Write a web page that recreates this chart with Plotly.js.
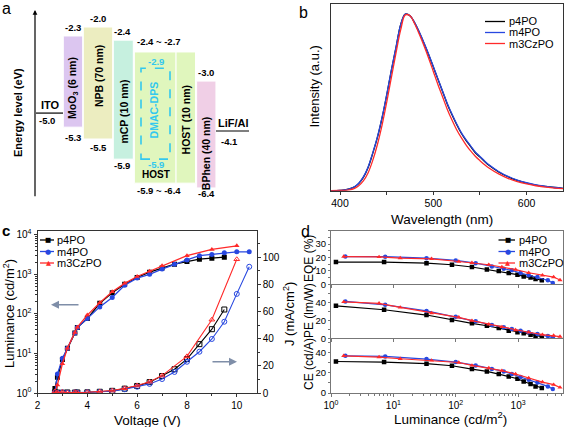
<!DOCTYPE html>
<html>
<head>
<meta charset="utf-8">
<script src="https://cdn.plot.ly/plotly-3.0.1.min.js"></script>
<style>html,body{margin:0;padding:0;background:#fff;}#chart{width:565px;height:427px;}</style>
</head>
<body>
<div id="chart"></div>
<script>
// ---------- Panel a: energy-level schematic ----------
const layerNames = ['MoO<sub>3</sub> (6 nm)', 'NPB (70 nm)', 'mCP (10 nm)', '', 'HOST (10 nm)', 'BPhen (40 nm)'];
const lumoLabels = ['-2.3', '-2.0', '-2.4', '-2.4 ~ -2.7', '', '-3.0'];
const homoLabels = ['-5.3', '-5.5', '-5.9', '-5.9 ~ -6.4', '', '-6.4'];
// schematic levels as drawn (eV scale of the sketch)
const layerTop = [-2.28, -2.0, -2.41, -2.78, -2.78, -3.69];
const layerBottom = [-5.13, -5.5, -6.13, -6.88, -6.88, -7.03];
const electrodeNames = ['ITO', 'LiF/Al'];
const electrodeLabels = ['-5.0', '-4.1'];
const electrodeLevel = [-4.69, -5.25];
const emitterName = 'DMAC-DPS';
const emitterLabels = ['-2.9', '-5.9'];
const emitterLevels = [-3.29, -6.13];

// ---------- Panel b: EL spectra ----------
const wavelength = [390,400,405,410,415,420,425,430,435,440,445,450,455,460,465,470,475,480,485,490,495,500,505,510,515,520,525,530,535,540,545,550,555,560,570,580,590,600,610,620,630,640];
const pl_p4PO = [0,0.002,0.004,0.01,0.02,0.04,0.075,0.13,0.21,0.30,0.41,0.54,0.68,0.81,0.94,1.0,0.99,0.95,0.895,0.835,0.77,0.70,0.63,0.56,0.49,0.43,0.375,0.325,0.285,0.25,0.215,0.19,0.165,0.142,0.106,0.079,0.058,0.043,0.032,0.024,0.018,0.013];
const pl_m4PO = [0,0.002,0.004,0.011,0.021,0.042,0.078,0.133,0.213,0.303,0.413,0.543,0.683,0.812,0.94,1.0,0.99,0.952,0.898,0.838,0.773,0.703,0.633,0.563,0.494,0.434,0.379,0.329,0.289,0.254,0.219,0.194,0.168,0.145,0.109,0.081,0.06,0.045,0.033,0.025,0.018,0.013];
const pl_m3CzPO = [0,0.001,0.002,0.005,0.012,0.028,0.055,0.10,0.17,0.26,0.37,0.50,0.64,0.78,0.91,0.995,0.99,0.945,0.885,0.82,0.75,0.675,0.60,0.53,0.46,0.40,0.345,0.30,0.26,0.225,0.195,0.17,0.147,0.127,0.095,0.07,0.052,0.038,0.028,0.02,0.015,0.011];

// ---------- Panel c: L-V and J-V ----------
const V_p4PO = [2.7,2.8,3.0,3.2,3.5,3.6,4.0,4.5,5.0,5.5,6.0,6.5,7.0,7.5,8.0,8.5,9.0,9.5];
const L_p4PO = [1.3,2.5,7.0,13.5,33,45,76,185,340,560,830,1130,1450,1800,2100,2400,2550,2700];
const J_p4PO = [0.5,0.3,0.2,0.4,0.3,0.4,0.5,0.9,1.6,3.2,5.2,8.0,12.5,17.5,25,36,47,61.5];
const V_m4PO = [2.7,2.8,3.0,3.2,3.5,3.6,4.0,4.5,5.0,5.5,6.0,6.5,7.0,7.5,8.0,8.5,9.0,9.5,10.0,10.5];
const L_m4PO = [1.0,3.0,7.5,13.5,33,45,76,150,260,530,800,1000,1350,1800,2300,2950,3150,3500,3700,3700];
const J_m4PO = [0.6,0.2,0.5,0.2,0.4,0.3,0.5,0.8,1.3,2.8,4.6,6.7,10.3,15.5,23,30.4,39.8,52.5,73,93];
const V_m3CzPO = [2.7,2.8,3.0,3.2,3.5,3.6,4.0,4.5,5.0,5.5,6.0,6.5,7.0,8.0,9.0,10.0];
const L_m3CzPO = [1.0,1.6,5.5,13.5,34,46,93,190,360,590,880,1200,1630,2950,4250,5250];
const J_m3CzPO = [1.2,0.4,0.8,0.2,0.6,0.3,0.6,1.0,1.8,3.5,5.5,8.3,12.8,27,54,98.5];

// ---------- Panel d: efficiencies vs luminance ----------
const dL_p4PO = [1.2,7.1,34,87,182,316,490,708,977,1230,1585,1905,2400];
const EQE_p4PO = [16.6,16.6,15.8,14.6,12.9,11.1,9.9,8.4,7.2,5.9,5.0,4.0,3.0];
const PE_p4PO = [36.2,31.8,25.9,20.3,16.7,14.0,11.4,8.5,6.7,5.5,4.0,2.9,1.8];
const CE_p4PO = [31.1,30.5,28.9,26.9,23.6,21.3,18.7,16.4,14.1,11.4,8.9,6.5,4.9];
const dL_m4PO = [1.7,7.4,34,100,209,380,589,794,1096,1479,2042,3000,3600];
const EQE_m4PO = [20.7,20.6,19.5,17.8,15.8,13.3,11.6,10.4,8.4,6.7,5.4,3.0,1.0];
const PE_m4PO = [41.0,37.3,30.5,24.0,18.9,14.8,12.2,10.3,8.5,6.7,4.8,2.6,1.0];
const CE_m4PO = [36.7,36.1,33.5,30.5,27.2,23.6,21.3,18.7,15.8,13.1,10.4,6.5,3.9];
const dL_m3CzPO = [1.6,5.9,12.9,41,112,182,339,550,912,1479,2455,3715,4700];
const EQE_m3CzPO = [20.7,20.4,19.6,19.0,17.0,16.0,14.6,12.9,11.0,8.6,6.7,5.4,3.2];
const PE_m3CzPO = [40.5,38.9,34.4,28.1,23.3,19.6,15.6,12.6,9.2,6.7,4.0,3.0,1.9];
const CE_m3CzPO = [36.7,35.5,33.8,32.1,30.1,27.2,24.6,22.0,18.7,14.8,10.8,8.2,5.5];

const seriesNames = ['p4PO', 'm4PO', 'm3CzPO'];

// ---------------- styling / layout -----------------
const W = 565, H = 427;
const px = x => x / W;
const py = y => 1 - y / H;
const COL = ['#000000', '#2848e0', '#ff2a2a'];
const SYM = ['square', 'circle', 'triangle-up'];
const GLYPH = ['\u25A0', '\u25CF', '\u25B2'];
const FONT = 'Arial, "Liberation Sans", sans-serif';
const layerColors = ['#dcc6f0', '#ecedc0', '#c6f0df', '#e0f6bd', '#e0f6bd', '#f0cfe6'];
const layerX = [73, 98, 123.3, 155.2, 185.8, 206.3];
const layerW = [19.4, 29.4, 20, 41.7, 19.5, 19.3];

function logMinor(maxExp, maxVal) {
  const v = [];
  for (let e = 0; e <= maxExp; e++) for (let k = 2; k <= 9; k++) { const t = k * Math.pow(10, e); if (t <= maxVal) v.push(t); }
  return v;
}
const sup = e => '10<sup>' + e + '</sup>';

const traces = [];
// panel a bars
traces.push({
  type: 'bar', x: layerX, width: layerW, base: layerBottom,
  y: layerTop.map((t, i) => t - layerBottom[i]),
  xaxis: 'x6', yaxis: 'y7',
  marker: {color: layerColors, line: {color: '#ffffff', width: 1}},
  hoverinfo: 'skip', showlegend: false
});
// panel b
[pl_p4PO, pl_m4PO, pl_m3CzPO].forEach((s, i) => traces.push({
  type: 'scatter', mode: 'lines', x: wavelength, y: s, xaxis: 'x', yaxis: 'y',
  line: {color: COL[i], width: 1.3, shape: 'spline'}, name: seriesNames[i], showlegend: false
}));
// panel c
const Vs = [V_p4PO, V_m4PO, V_m3CzPO], Ls = [L_p4PO, L_m4PO, L_m3CzPO], Js = [J_p4PO, J_m4PO, J_m3CzPO];
for (let i = 0; i < 3; i++) {
  traces.push({type: 'scatter', mode: 'lines+markers', x: Vs[i], y: Ls[i], xaxis: 'x2', yaxis: 'y2',
    line: {color: COL[i], width: 1.3}, marker: {symbol: SYM[i], size: 5, color: COL[i]}, showlegend: false});
}
for (let i = 0; i < 3; i++) {
  traces.push({type: 'scatter', mode: 'lines+markers', x: Vs[i], y: Js[i], xaxis: 'x2', yaxis: 'y3',
    line: {color: COL[i], width: 1.1}, marker: {symbol: SYM[i] + '-open', size: 5, color: COL[i], line: {width: 1}}, showlegend: false});
}
// panel d
const dLs = [dL_p4PO, dL_m4PO, dL_m3CzPO];
const panels = [[EQE_p4PO, EQE_m4PO, EQE_m3CzPO, 'x5', 'y6'], [PE_p4PO, PE_m4PO, PE_m3CzPO, 'x4', 'y5'], [CE_p4PO, CE_m4PO, CE_m3CzPO, 'x3', 'y4']];
panels.forEach(p => {
  for (let i = 0; i < 3; i++) traces.push({type: 'scatter', mode: 'lines+markers', x: dLs[i], y: p[i], xaxis: p[3], yaxis: p[4],
    line: {color: COL[i], width: 1.2}, marker: {symbol: SYM[i], size: 4.5, color: COL[i]}, showlegend: false});
});

const axBase = {showgrid: false, zeroline: false, showline: true, linewidth: 1, ticks: 'outside', ticklen: 3, tickwidth: 1,
  tickfont: {size: 10.5, family: FONT}};
const frame = c => ({linecolor: c, tickcolor: c, mirror: true});
const tf = s => ({tickfont: {size: s, family: FONT}});

const layout = {
  width: W, height: H, margin: {l: 0, r: 0, t: 0, b: 0}, showlegend: false,
  paper_bgcolor: '#ffffff', plot_bgcolor: 'rgba(0,0,0,0)', font: {family: FONT, size: 11, color: '#000'},
  bargap: 0,
  // b
  xaxis: Object.assign({}, axBase, frame('#333'), tf(10.5), {domain: [px(330.7), px(563)], anchor: 'y', range: [390, 639],
    tickvals: [400, 500, 600], minor: {tickmode: 'array', tickvals: [450, 550], ticks: 'outside', ticklen: 3, tickcolor: '#333'}}),
  yaxis: Object.assign({}, axBase, frame('#333'), {domain: [py(190.7), py(4.3)], anchor: 'x', range: [0, 1.055], showticklabels: false, ticks: ''}),
  // c
  xaxis2: Object.assign({}, axBase, frame('#333'), tf(10), {domain: [px(37.5), px(256.7)], anchor: 'y2', range: [2, 10.8],
    tickvals: [2, 4, 6, 8, 10], minor: {dtick: 1, ticks: 'outside', ticklen: 2, tickcolor: '#333'}}),
  yaxis2: Object.assign({}, axBase, tf(10), {linecolor: '#333', tickcolor: '#333', type: 'log', domain: [py(393), py(230.5)], anchor: 'x2', range: [0, 4.106],
    tickvals: [1, 10, 100, 1000, 10000], ticktext: [0, 1, 2, 3, 4].map(sup),
    minor: {tickmode: 'array', tickvals: logMinor(3, 9999), ticks: 'outside', ticklen: 2, tickcolor: '#333'}}),
  yaxis3: Object.assign({}, axBase, tf(10), {linecolor: '#333', tickcolor: '#333', overlaying: 'y2', side: 'right', anchor: 'x2', range: [0, 119.7],
    tickvals: [0, 20, 40, 60, 80, 100], minor: {dtick: 10, ticks: 'outside', ticklen: 2, tickcolor: '#333'}}),
  // d
  xaxis3: Object.assign({}, axBase, frame('#777'), tf(10), {type: 'log', domain: [px(331), px(563)], anchor: 'y4', range: [0, 3.72],
    tickvals: [1, 10, 100, 1000], ticktext: [0, 1, 2, 3].map(sup),
    minor: {tickmode: 'array', tickvals: logMinor(3, 5200), ticks: 'outside', ticklen: 2, tickcolor: '#777'}}),
  xaxis4: Object.assign({}, axBase, frame('#777'), {type: 'log', domain: [px(331), px(563)], anchor: 'y5', range: [0, 3.72], matches: 'x3',
    showticklabels: false, tickvals: [1, 10, 100, 1000]}),
  xaxis5: Object.assign({}, axBase, frame('#777'), {type: 'log', domain: [px(331), px(563)], anchor: 'y6', range: [0, 3.72], matches: 'x3',
    showticklabels: false, tickvals: [1, 10, 100, 1000]}),
  yaxis4: Object.assign({}, axBase, frame('#777'), tf(9.5), {ticklen: 2, domain: [py(393), py(339.3)], anchor: 'x3', range: [0, 53], tickvals: [0, 20, 40],
    minor: {dtick: 10, ticks: 'outside', ticklen: 2, tickcolor: '#777'}}),
  yaxis5: Object.assign({}, axBase, frame('#777'), tf(9.5), {ticklen: 2, domain: [py(338.3), py(285.3)], anchor: 'x4', range: [0, 59], tickvals: [0, 20, 40],
    minor: {dtick: 10, ticks: 'outside', ticklen: 2, tickcolor: '#777'}}),
  yaxis6: Object.assign({}, axBase, frame('#777'), tf(9.5), {ticklen: 2, domain: [py(284.3), py(230.7)], anchor: 'x5', range: [0, 40], tickvals: [0, 10, 20, 30],
    minor: {dtick: 5, ticks: 'outside', ticklen: 2, tickcolor: '#777'}}),
  // a
  xaxis6: {domain: [0, px(282)], anchor: 'y7', range: [0, 282], visible: false, fixedrange: true},
  yaxis7: {domain: [py(214), 1], anchor: 'x6', range: [-7.844, -1.156], visible: false, fixedrange: true},
  shapes: [], annotations: []
};

const A = layout.annotations, S = layout.shapes;
function txt(x, y, text, o) { A.push(Object.assign({x: px(x), y: py(y), xref: 'paper', yref: 'paper', text: text, showarrow: false,
  font: {size: 11, family: FONT, color: '#000'}, xanchor: 'center', yanchor: 'middle'}, o || {})); }

// panel letters
txt(6, 8, 'a', {font: {size: 16, family: FONT}});
txt(303, 12, 'b', {font: {size: 16, family: FONT}});
txt(6, 230, '<b>c</b>', {font: {size: 15, family: FONT}});
txt(305, 231, 'd', {font: {size: 16, family: FONT}});

// axis titles
txt(313.5, 87, 'Intensity (a.u.)', {textangle: -90, font: {size: 13, family: FONT}});
txt(442, 219, 'Wavelength (nm)', {font: {size: 13.5, family: FONT}});
txt(9, 314, 'Luminance (cd/m<sup>2</sup>)', {textangle: -90, font: {size: 13, family: FONT}});
txt(147, 420, 'Voltage (V)', {font: {size: 13.5, family: FONT}});
txt(289, 314, 'J (mA/cm<sup>2</sup>)', {textangle: -90, font: {size: 13, family: FONT}});
txt(309, 259, 'EQE (%)', {textangle: -90, font: {size: 12, family: FONT}});
txt(309, 311, 'PE (lm/W)', {textangle: -90, font: {size: 12, family: FONT}});
txt(309, 364, 'CE (cd/A)', {textangle: -90, font: {size: 12, family: FONT}});
txt(450, 417.5, 'Luminance (cd/m<sup>2</sup>)', {font: {size: 13.5, family: FONT}});

// custom legends
function legend(x0, x1, xt, ys, withMarkers) {
  ys.forEach((y, i) => {
    S.push({type: 'line', xref: 'paper', yref: 'paper', x0: px(x0), x1: px(x1), y0: py(y), y1: py(y), line: {color: COL[i], width: 1.3}});
    if (withMarkers) txt((x0 + x1) / 2 + 1, y, GLYPH[i], {font: {size: i === 1 ? 7 : 6.5, family: 'DejaVu Sans', color: COL[i]}});
    txt(xt, y, seriesNames[i], {xanchor: 'left', font: {size: 11, family: FONT}});
  });
}
legend(485, 505, 507, [21.5, 32.5, 43.5], false);
legend(40, 54, 55, [240, 251.5, 263], true);
legend(498.5, 515, 516.5, [240, 251.5, 263], true);

// arrows in c
A.push({x: px(51), y: py(304.7), ax: px(80), ay: py(304.7), xref: 'paper', yref: 'paper', axref: 'paper', ayref: 'paper',
  showarrow: true, arrowhead: 2, arrowsize: 1, arrowwidth: 1.6, arrowcolor: '#7f8ea8', text: ''});
A.push({x: px(237), y: py(361.7), ax: px(211), ay: py(361.7), xref: 'paper', yref: 'paper', axref: 'paper', ayref: 'paper',
  showarrow: true, arrowhead: 2, arrowsize: 1, arrowwidth: 1.6, arrowcolor: '#7f8ea8', text: ''});

// panel a annotations
const aF = (size, color) => ({size: size, family: FONT, color: color || '#000'});
function atxt(x, y, text, o) { A.push(Object.assign({x: x, y: y, xref: 'x6', yref: 'y7', text: text, showarrow: false,
  font: aF(9.5), xanchor: 'center', yanchor: 'middle'}, o || {})); }
// energy axis arrow
A.push({x: 35, y: -1.47, ax: 35, ay: -7.34, xref: 'x6', yref: 'y7', axref: 'x6', ayref: 'y7', showarrow: true,
  arrowhead: 2, arrowsize: 0.8, arrowwidth: 1.2, arrowcolor: '#000', text: ''});
txt(18, 113, '<b>Energy level (eV)</b>', {textangle: -90, font: aF(11)});
// layer names (rotated)
const nameY = [-3.92, -3.55, -4.65, null, -4.91, -5.95];
layerNames.forEach((n, i) => { if (n) atxt(layerX[i] + 0.5, nameY[i], '<b>' + n + '</b>', {textangle: -90, font: aF(10.5)}); });
// level labels
const topShift = [1, 1, 1, 3, 0, 1];
const botShift = [-10, -8, -6, -7, 0, -6];
const labX = [72.7, 98, 122, 159, 0, 206];
lumoLabels.forEach((t, i) => { if (t) atxt(labX[i], layerTop[i], '<b>' + t + '</b>', {yshift: topShift[i], yanchor: 'bottom'}); });
homoLabels.forEach((t, i) => { if (t) atxt(labX[i], layerBottom[i], '<b>' + t + '</b>', {yshift: botShift[i], yanchor: 'middle'}); });
// electrodes
const elecX = [[36, 63], [216, 249]];
electrodeLevel.forEach((e, i) => {
  S.push({type: 'line', xref: 'x6', yref: 'y7', x0: elecX[i][0], x1: elecX[i][1], y0: e, y1: e, line: {color: '#000', width: 1.2}});
});
atxt(50.5, electrodeLevel[0], '<b>' + electrodeNames[0] + '</b>', {yanchor: 'bottom', yshift: 0, font: aF(11)});
atxt(47, electrodeLevel[0], '<b>' + electrodeLabels[0] + '</b>', {yanchor: 'top', yshift: 0});
atxt(233, electrodeLevel[1], '<b>' + electrodeNames[1] + '</b>', {yanchor: 'bottom', yshift: 0, font: aF(11)});
atxt(229, electrodeLevel[1], '<b>' + electrodeLabels[1] + '</b>', {yanchor: 'top', yshift: -3});
// emitter dashed box
S.push({type: 'rect', xref: 'x6', yref: 'y7', x0: 141, x1: 170, y0: emitterLevels[1], y1: emitterLevels[0],
  line: {color: '#33c8ee', width: 1.6, dash: 'dash'}});
atxt(155.5, emitterLevels[0], '<b>' + emitterLabels[0] + '</b>', {yanchor: 'middle', yshift: 7, font: aF(9.5, '#33c8ee')});
atxt(156, emitterLevels[1], '<b>' + emitterLabels[1] + '</b>', {yanchor: 'middle', yshift: -5, font: aF(9.5, '#33c8ee')});
atxt(153.5, -4.59, '<b>' + emitterName + '</b>', {textangle: -90, font: aF(10.5, '#33c8ee')});
atxt(156, layerBottom[3], '<b>HOST</b>', {yanchor: 'middle', yshift: 9, font: aF(10)});

Plotly.newPlot('chart', traces, layout, {staticPlot: true, displayModeBar: false});
</script>
</body>
</html>
